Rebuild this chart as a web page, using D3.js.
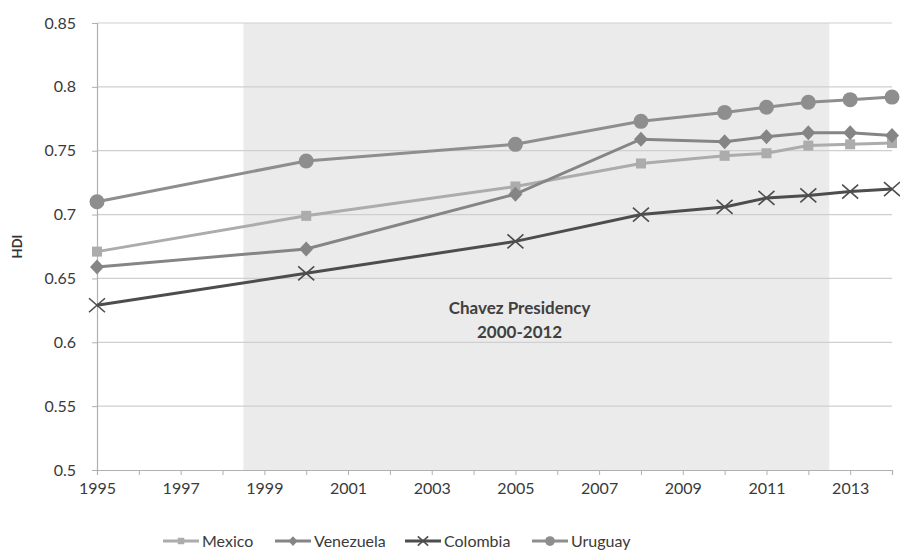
<!DOCTYPE html>
<html><head><meta charset="utf-8">
<script src="https://cdn.jsdelivr.net/npm/d3@7"></script>
<style>body{margin:0;background:#fff}svg{display:block}text{font-family:Lato,"Open Sans",sans-serif}</style>
</head><body><svg id="c" width="900" height="552"></svg>
<script>
const years = [1995, 2000, 2005, 2008, 2010, 2011, 2012, 2013, 2014];
const mexico    = [0.671, 0.699, 0.722, 0.740, 0.746, 0.748, 0.754, 0.755, 0.756];
const venezuela = [0.659, 0.673, 0.716, 0.759, 0.757, 0.761, 0.764, 0.764, 0.762];
const colombia  = [0.629, 0.654, 0.679, 0.700, 0.706, 0.713, 0.715, 0.718, 0.720];
const uruguay   = [0.710, 0.742, 0.755, 0.773, 0.780, 0.784, 0.788, 0.790, 0.792];
const seriesNames = ["Mexico", "Venezuela", "Colombia", "Uruguay"];
const yTicks = [0.5, 0.55, 0.6, 0.65, 0.7, 0.75, 0.8, 0.85];
const xLabels = [1995, 1997, 1999, 2001, 2003, 2005, 2007, 2009, 2011, 2013];
const shadeRange = [1998.5, 2012.5];
const annotation = ["Chavez Presidency", "2000-2012"];

const svg = d3.select("#c");
const x = d3.scaleLinear().domain([1995, 2014]).range([97, 892]);
const y = d3.scaleLinear().domain([0.5, 0.85]).range([470, 23]);

const styles = {
  Mexico:    {color: "#acacac", marker: "square"},
  Venezuela: {color: "#858585", marker: "diamond"},
  Colombia:  {color: "#4d4d4d", marker: "x"},
  Uruguay:   {color: "#8e8e8e", marker: "circle"}
};
const data = {Mexico: mexico, Venezuela: venezuela, Colombia: colombia, Uruguay: uruguay};

// shaded period
svg.append("rect").attr("x", x(shadeRange[0])).attr("y", y(0.85))
  .attr("width", x(shadeRange[1]) - x(shadeRange[0])).attr("height", y(0.5) - y(0.85))
  .attr("fill", "#ebebeb");

// gridlines
svg.append("g").selectAll("line").data(yTicks.filter(t => t > 0.5)).join("line")
  .attr("x1", x(1995)).attr("x2", x(2014)).attr("y1", d => y(d)).attr("y2", d => y(d))
  .attr("stroke", "#cfcfcf").attr("stroke-width", 1.2);

// axes
const xAxis = d3.axisBottom(x).tickValues(d3.range(1995, 2015)).tickSize(5)
  .tickFormat(d => xLabels.includes(d) ? d : "");
const gx = svg.append("g").attr("transform", `translate(0,${y(0.5)})`).call(xAxis);
gx.select(".domain").attr("stroke", "#b0b0b0").attr("stroke-width", 1.2);
gx.selectAll(".tick line").attr("stroke", "#b0b0b0");
gx.selectAll(".tick text").attr("fill", "#3a3a3a").attr("font-size", 16).attr("y", 10).attr("dy", "0.9em");

const yAxis = d3.axisLeft(y).tickValues(yTicks).tickSize(5).tickFormat(d => String(+d.toFixed(2)));
const gy = svg.append("g").attr("transform", `translate(${x(1995)},0)`).call(yAxis);
gy.select(".domain").attr("stroke", "#b0b0b0").attr("stroke-width", 1.2);
gy.selectAll(".tick line").attr("stroke", "#b0b0b0");
gy.selectAll(".tick text").attr("fill", "#3a3a3a").attr("font-size", 16).attr("x", -21);

svg.append("text").attr("transform", `translate(22,${(y(0.5)+y(0.85))/2}) rotate(-90)`)
  .attr("text-anchor", "middle").attr("font-weight", "bold").attr("font-size", 13)
  .attr("fill", "#333").text("HDI");

// annotation
svg.append("g").selectAll("text").data(annotation).join("text")
  .attr("x", x(2005.1)).attr("y", (d, i) => 314 + i * 24)
  .attr("text-anchor", "middle").attr("font-weight", "bold").attr("font-size", 17)
  .attr("fill", "#404040").text(d => d);

function drawMarker(g, type, color, cx, cy, scale) {
  const s = scale || 1;
  if (type === "square") g.append("rect").attr("x", cx - 5*s).attr("y", cy - 5*s).attr("width", 10*s).attr("height", 10*s).attr("fill", color);
  else if (type === "diamond") g.append("path").attr("d", `M${cx},${cy-7.5*s}L${cx+7*s},${cy}L${cx},${cy+7.5*s}L${cx-7*s},${cy}Z`).attr("fill", color);
  else if (type === "circle") g.append("circle").attr("cx", cx).attr("cy", cy).attr("r", 7.5*s).attr("fill", color);
  else if (type === "x") g.append("path").attr("d", `M${cx-8*s},${cy-7*s}L${cx+8*s},${cy+7*s}M${cx-8*s},${cy+7*s}L${cx+8*s},${cy-7*s}`).attr("stroke", color).attr("stroke-width", 1.6).attr("fill", "none");
}

const line = d3.line().x(d => x(d[0])).y(d => y(d[1]));
seriesNames.forEach(name => {
  const st = styles[name];
  const pts = years.map((yr, i) => [yr, data[name][i]]);
  const g = svg.append("g");
  g.append("path").attr("d", line(pts)).attr("fill", "none").attr("stroke", st.color)
    .attr("stroke-width", 3);
  pts.forEach(p => drawMarker(g, st.marker, st.color, x(p[0]), y(p[1])));
});

// legend
const legendX = [163, 275, 405, 532];
const lg = svg.append("g");
seriesNames.forEach((name, i) => {
  const st = styles[name];
  const lx = legendX[i], ly = 541;
  lg.append("line").attr("x1", lx).attr("x2", lx + 36).attr("y1", ly).attr("y2", ly)
    .attr("stroke", st.color).attr("stroke-width", 3);
  drawMarker(lg, st.marker, st.color, lx + 18, ly, 0.65);
  lg.append("text").attr("x", lx + 39).attr("y", ly + 5.5).attr("font-size", 16)
    .attr("fill", "#3a3a3a").text(name);
});
</script></body></html>
